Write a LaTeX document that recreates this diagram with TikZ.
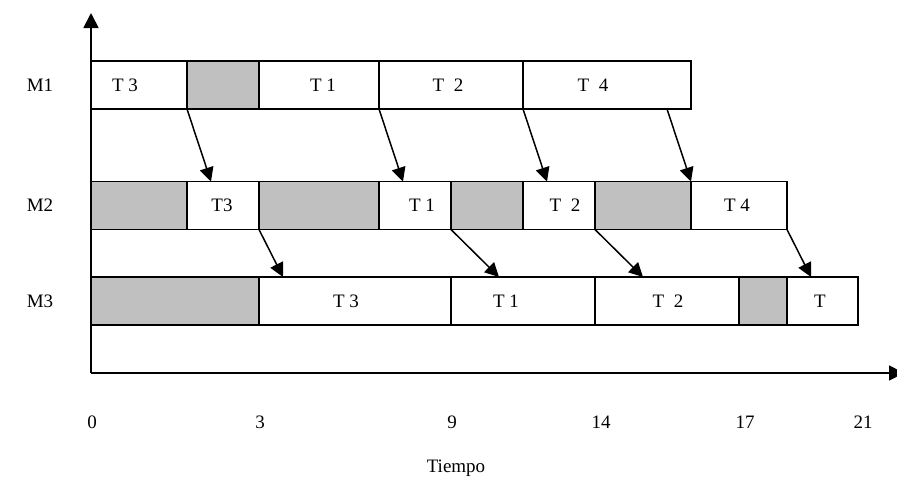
\documentclass[tikz,border=0pt]{standalone}
\usepackage{fontspec}
\setmainfont{Liberation Serif}
\usetikzlibrary{arrows.meta,calc}
\definecolor{idlegray}{HTML}{C0C0C0}
\begin{document}
\begin{tikzpicture}[x=1pt,y=-1pt,
  box/.style={draw, line width=1.8pt, inner sep=0pt, outer sep=0pt, minimum height=48pt, anchor=north west},
  idle/.style={box, fill=idlegray},
  lbl/.style={font=\fontsize{19}{22}\selectfont, inner sep=0pt},
  flow/.style={line width=1.5pt, -{Triangle[length=14pt,width=14pt]}},
  axis/.style={line width=1.8pt, -{Triangle[length=15pt,width=15pt]}}
]
\useasboundingbox (0,0) rectangle (897,480);

% axes
\coordinate (O) at (91,373);
\coordinate (ytip) at (91,13);
\coordinate (xtip) at (904,373);
\draw[axis] (O) -- (ytip);
\draw[axis] (O) -- (xtip);

% row M1
\node[box, minimum width=96pt]  (m1a) at (91,61) {};
\node[idle, minimum width=72pt] (m1b) at (187,61) {};
\node[box, minimum width=120pt] (m1c) at (259,61) {};
\node[box, minimum width=144pt] (m1d) at (379,61) {};
\node[box, minimum width=168pt] (m1e) at (523,61) {};

% row M2
\node[idle, minimum width=96pt]  (m2a) at (91,181.5) {};
\node[box, minimum width=72pt]   (m2b) at (187,181.5) {};
\node[idle, minimum width=120pt] (m2c) at (259,181.5) {};
\node[box, minimum width=72pt]   (m2d) at (379,181.5) {};
\node[idle, minimum width=72pt]  (m2e) at (451,181.5) {};
\node[box, minimum width=72pt]   (m2f) at (523,181.5) {};
\node[idle, minimum width=96pt]  (m2g) at (595,181.5) {};
\node[box, minimum width=96pt]   (m2h) at (691,181.5) {};

% row M3
\node[idle, minimum width=168pt] (m3a) at (91,277) {};
\node[box, minimum width=192pt]  (m3b) at (259,277) {};
\node[box, minimum width=144pt]  (m3c) at (451,277) {};
\node[box, minimum width=144pt]  (m3d) at (595,277) {};
\node[idle, minimum width=48pt]  (m3e) at (739,277) {};
\node[box, minimum width=71pt]   (m3f) at (787,277) {};

% task labels
\node[lbl] (l1a) at (125,85) {T 3};
\node[lbl] (l1c) at (323,85) {T 1};
\node[lbl] (l1d) at (448,85) {T\ \ 2};
\node[lbl] (l1e) at (593,85) {T\ \ 4};
\node[lbl] (l2b) at (222,205.5) {T3};
\node[lbl] (l2d) at (422,205.5) {T 1};
\node[lbl] (l2f) at (565,205.5) {T\ \ 2};
\node[lbl] (l2h) at (737,205.5) {T 4};
\node[lbl] (l3b) at (346,301) {T 3};
\node[lbl] (l3c) at (506,301) {T 1};
\node[lbl] (l3d) at (668,301) {T\ \ 2};
\node[lbl] (l3f) at (820,301) {T};

% machine labels
\node[lbl] (M1) at (40,85) {M1};
\node[lbl] (M2) at (40,205.5) {M2};
\node[lbl] (M3) at (40,301) {M3};

% time labels
\node[lbl] (t0)  at (92,422) {0};
\node[lbl] (t3)  at (260,422) {3};
\node[lbl] (t9)  at (452,422) {9};
\node[lbl] (t14) at (601,422) {14};
\node[lbl] (t17) at (745,422) {17};
\node[lbl] (t21) at (863,422) {21};
\node[lbl] (tiempo) at (456,468) {Tiempo};

% precedence arrows
\draw[flow] (m1a.south east) -- ($(m2b.north west)+(24,0)$);
\draw[flow] (m1c.south east) -- ($(m2d.north west)+(24,0)$);
\draw[flow] (m1d.south east) -- ($(m2f.north west)+(24,0)$);
\draw[flow] ($(m1e.south east)+(-24,0)$) -- (m2h.north west);
\draw[flow] (m2b.south east) -- ($(m3b.north west)+(24,0)$);
\draw[flow] (m2d.south east) -- ($(m3c.north west)+(48,0)$);
\draw[flow] (m2f.south east) -- ($(m3d.north west)+(48,0)$);
\draw[flow] (m2h.south east) -- ($(m3f.north west)+(24,0)$);
\end{tikzpicture}
\end{document}
